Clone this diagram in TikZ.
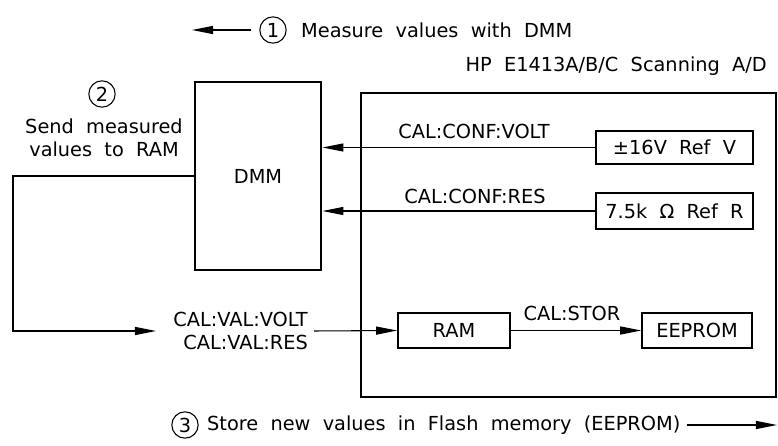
\documentclass[tikz,border=0pt]{standalone}
\usepackage{fontspec}
\setmainfont{DejaVu Sans}[WordSpace=2]
\usetikzlibrary{arrows.meta}
\begin{document}
\begin{tikzpicture}[x=0.02cm,y=-0.02cm,
  font=\fontsize{11}{13}\selectfont,
  box/.style={draw, line width=1pt, inner sep=0pt},
  heavy/.style={draw, line width=1.6pt, inner sep=0pt},
  arr/.style={-{Triangle[length=12pt,width=4.6pt]}, line width=0.6pt},
  num/.style={draw, circle, line width=0.6pt, minimum size=15pt, inner sep=0pt}]
\useasboundingbox (0,0) rectangle (778,446);
\node[heavy, minimum width=8.3cm, minimum height=6.08cm] (hpbox) at (568.5,245) {};
\node[heavy, minimum width=2.52cm, minimum height=3.76cm] (dmm) at (258,176) {DMM};
\node[box, minimum width=3.14cm, minimum height=0.66cm] (refv) at (674.5,147.5) {±16V Ref V};
\node[box, minimum width=3.14cm, minimum height=0.72cm] (refr) at (674.5,211) {7.5k Ω Ref R};
\node[box, minimum width=2.24cm, minimum height=0.7cm] (ram) at (454,330.5) {RAM};
\node[box, minimum width=2.2cm, minimum height=0.7cm] (eeprom) at (697,330.5) {EEPROM};
\node[anchor=east] (hp) at (773,66) {HP E1413A/B/C Scanning A/D};
\node (confvolt) at (474,131) {CAL:CONF:VOLT};
\node (confres) at (475,196) {CAL:CONF:RES};
\node (stor) at (572,313) {CAL:STOR};
\node[align=right, anchor=east] (valtxt) at (314,331) {CAL:VAL:VOLT\\CAL:VAL:RES};
\node[num] (n1) at (273,30) {1};
\node[anchor=west] (measure) at (295,30) {Measure values with DMM};
\node[num] (n2) at (102,94) {2};
\node[align=center] (send) at (104,138) {Send measured\\values to RAM};
\node[num] (n3) at (185,425) {3};
\node[anchor=west] (store) at (201,425) {Store new values in Flash memory (EEPROM)};
\coordinate (toptip) at (192,30);
\coordinate (bottip) at (777,425);
\coordinate (corner) at (13,176);
\coordinate (valtip) at (156,331);
\draw[arr, shorten <=4.5pt] (n1.west) -- (toptip);
\draw[arr] (store.east) -- (bottip);
\draw[arr] (refv.west) -- (refv.west -| dmm.east);
\draw[arr] (refr.west) -- (refr.west -| dmm.east);
\draw[arr] (dmm.west) -- (corner) |- (valtip);
\draw[arr] (valtxt.east) -- (ram.west);
\draw[arr] (ram.east) -- (eeprom.west);
\end{tikzpicture}
\end{document}
